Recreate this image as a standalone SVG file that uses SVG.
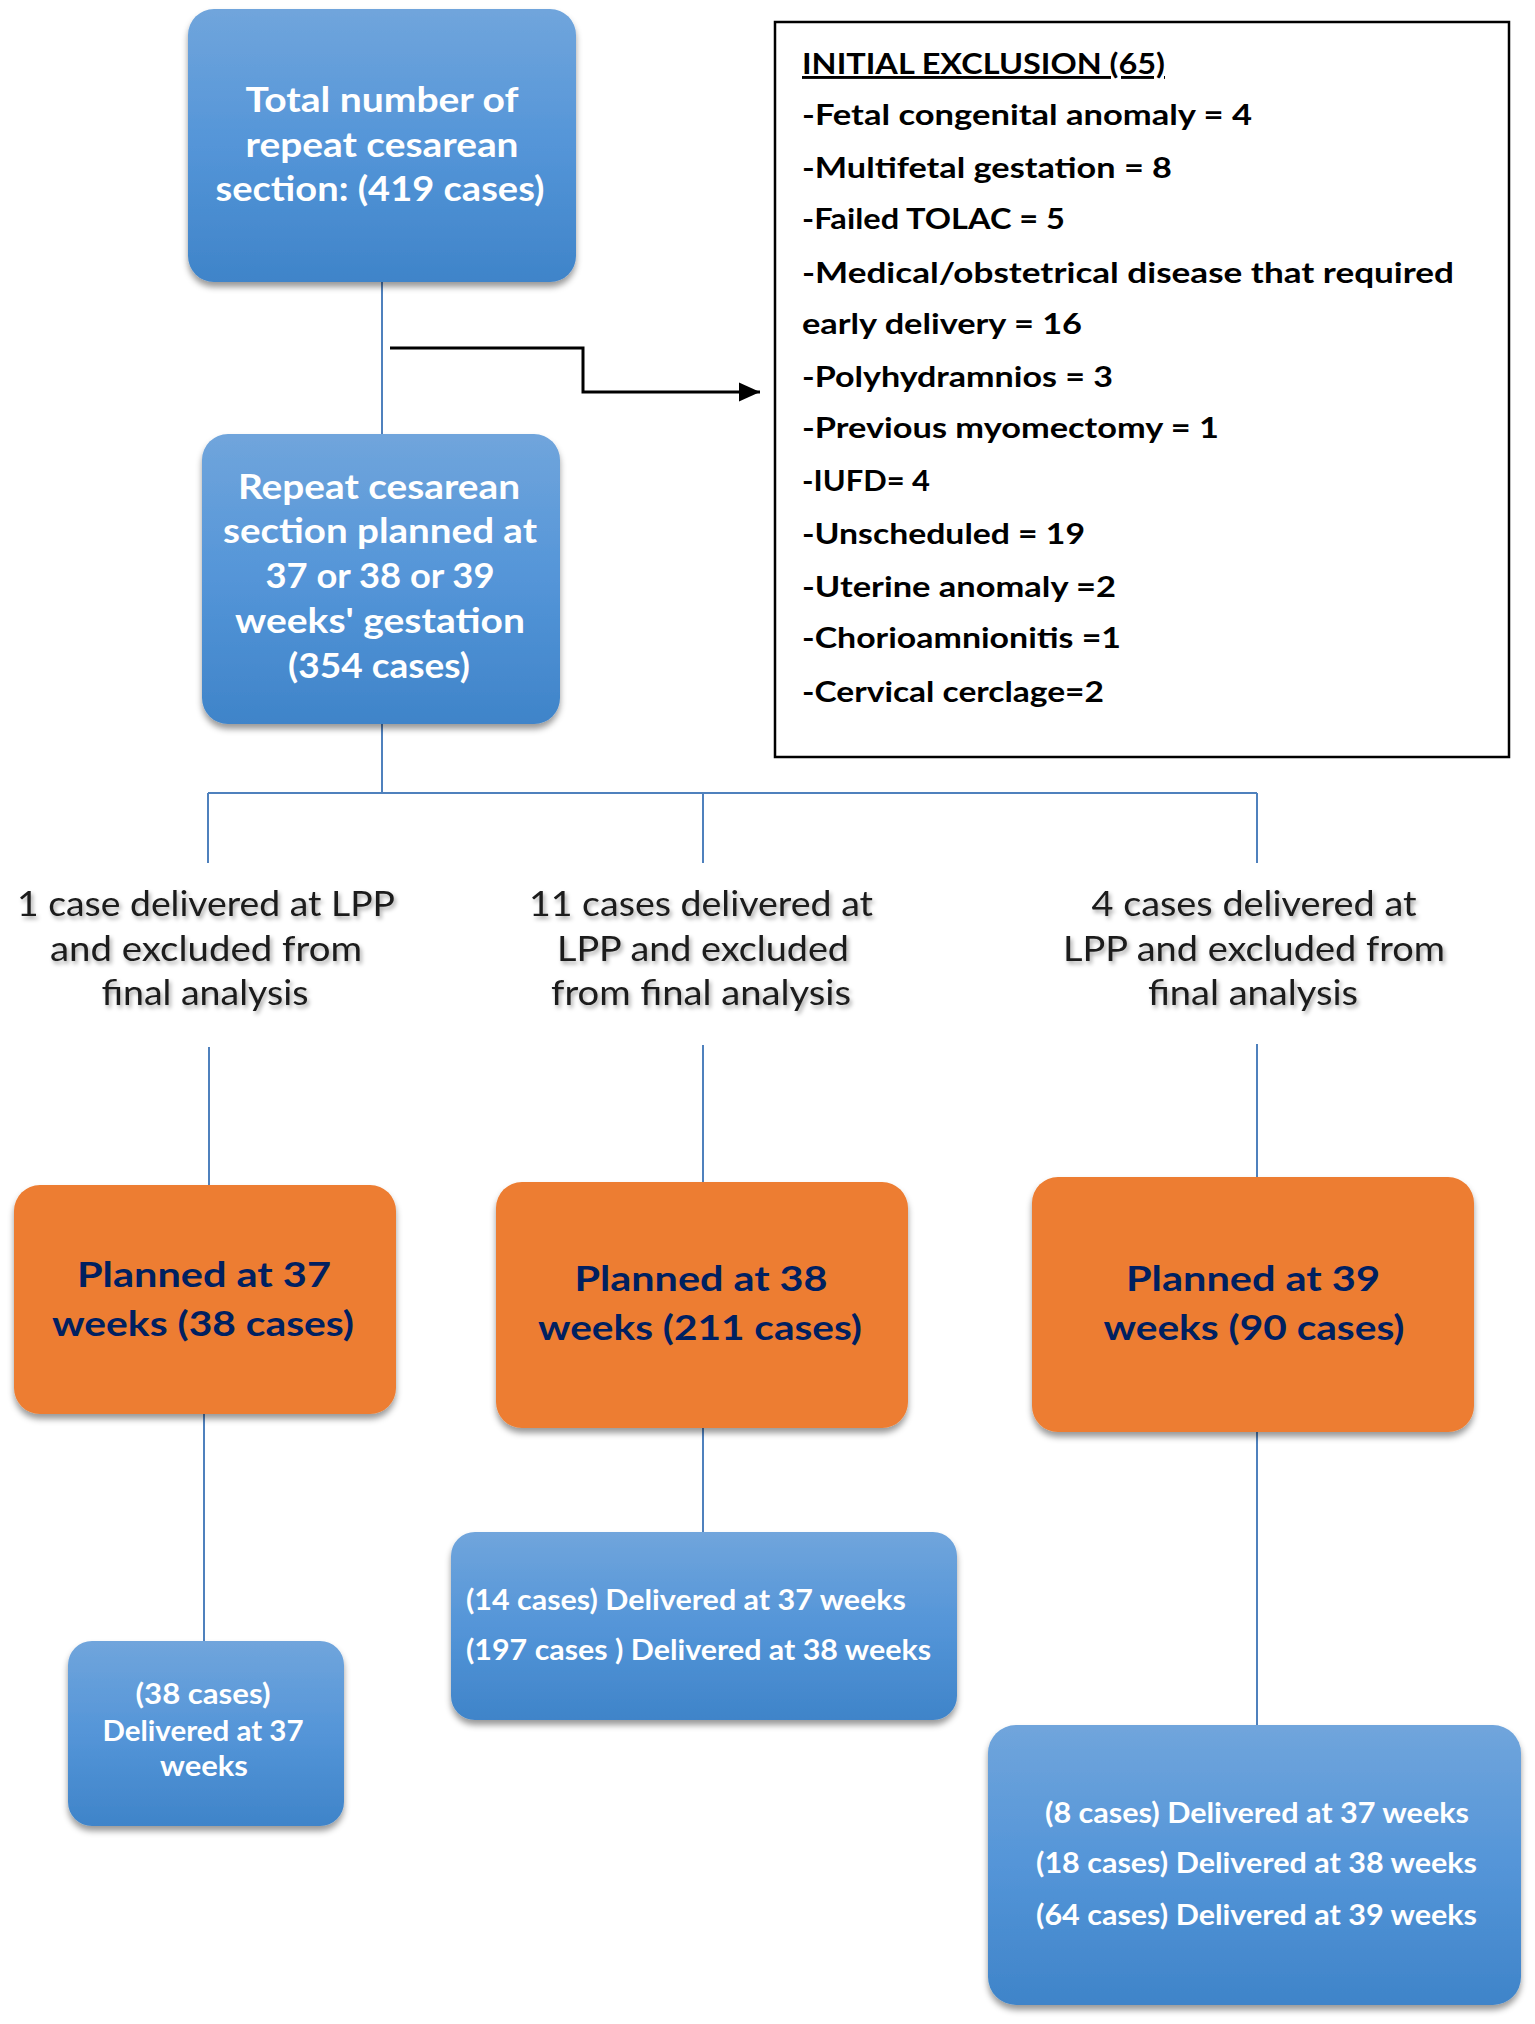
<svg xmlns="http://www.w3.org/2000/svg" width="1535" height="2024" viewBox="0 0 1535 2024">
<defs>
<linearGradient id="blueGrad" x1="0" y1="0" x2="0" y2="1">
<stop offset="0" stop-color="#70a5dc"/>
<stop offset="0.5" stop-color="#5495d8"/>
<stop offset="1" stop-color="#3f84c9"/>
</linearGradient>
<filter id="boxShadow" x="-10%" y="-10%" width="120%" height="130%">
<feDropShadow dx="0" dy="5" stdDeviation="3" flood-color="#000" flood-opacity="0.4"/>
</filter>
<filter id="textShadow" x="-5%" y="-20%" width="110%" height="160%">
<feDropShadow dx="2" dy="3" stdDeviation="2" flood-color="#000" flood-opacity="0.35"/>
</filter>
<marker id="arrow" markerWidth="8" markerHeight="8" refX="7" refY="4" orient="auto" markerUnits="strokeWidth">
<path d="M0,0.8 L7,4 L0,7.2 Z" fill="#000"/>
</marker>
<style>
.blue{fill:url(#blueGrad);filter:url(#boxShadow);}
.orange{fill:#ed7d31;filter:url(#boxShadow);}
.wt{font-family:Lato,"Liberation Sans",sans-serif;font-weight:bold;font-size:34px;fill:#ffffff;text-anchor:middle;}
.ot{font-family:Lato,"Liberation Sans",sans-serif;font-weight:bold;font-size:34px;fill:#002060;text-anchor:middle;}
.st{font-family:Lato,"Liberation Sans",sans-serif;font-weight:bold;font-size:28px;fill:#ffffff;}
.lt{font-family:Lato,"Liberation Sans",sans-serif;font-size:34px;fill:#1a1a1a;text-anchor:middle;filter:url(#textShadow);}
.ex{font-family:Lato,"Liberation Sans",sans-serif;font-weight:bold;font-size:29px;fill:#000;}
.conn{stroke:#4f81bd;stroke-width:2;fill:none;}
</style>
</defs>

<g id="connectors">
<path class="conn" d="M382,282 V434"/>
<path class="conn" d="M382,724 V793"/>
<path class="conn" d="M208,793 H1257"/>
<path class="conn" d="M208,793 V863"/>
<path class="conn" d="M703,793 V863"/>
<path class="conn" d="M1257,793 V863"/>
<path class="conn" d="M209,1047 V1185"/>
<path class="conn" d="M703,1045 V1182"/>
<path class="conn" d="M1257,1044 V1177"/>
<path class="conn" d="M204,1414 V1641"/>
<path class="conn" d="M703,1428 V1532"/>
<path class="conn" d="M1257,1432 V1725"/>
<path d="M390,348 H583 V392 H760" stroke="#000" stroke-width="3" fill="none" marker-end="url(#arrow)"/>
</g>

<g id="node-total">
<rect class="blue" x="188" y="9" width="388" height="273" rx="26"/>
<text class="wt" x="382" y="112" textLength="273" lengthAdjust="spacingAndGlyphs">Total number of</text>
<text class="wt" x="382" y="157" textLength="273" lengthAdjust="spacingAndGlyphs">repeat cesarean</text>
<text class="wt" x="380" y="201" textLength="329" lengthAdjust="spacingAndGlyphs">section: (419 cases)</text>
</g>

<g id="node-exclusion">
<rect x="775" y="22" width="734" height="735" fill="#fff" stroke="#000" stroke-width="2.5"/>
<text class="ex" x="802" y="74" textLength="363" lengthAdjust="spacingAndGlyphs" text-decoration="underline">INITIAL EXCLUSION (65)</text>
<text class="ex" x="802" y="125" textLength="450" lengthAdjust="spacingAndGlyphs">-Fetal congenital anomaly = 4</text>
<text class="ex" x="802" y="178" textLength="370" lengthAdjust="spacingAndGlyphs">-Multifetal gestation = 8</text>
<text class="ex" x="802" y="229" textLength="263" lengthAdjust="spacingAndGlyphs">-Failed TOLAC = 5</text>
<text class="ex" x="802" y="283" textLength="652" lengthAdjust="spacingAndGlyphs">-Medical/obstetrical disease that required</text>
<text class="ex" x="802" y="334" textLength="280" lengthAdjust="spacingAndGlyphs">early delivery = 16</text>
<text class="ex" x="802" y="387" textLength="311" lengthAdjust="spacingAndGlyphs">-Polyhydramnios = 3</text>
<text class="ex" x="802" y="438" textLength="417" lengthAdjust="spacingAndGlyphs">-Previous myomectomy = 1</text>
<text class="ex" x="802" y="491" textLength="128" lengthAdjust="spacingAndGlyphs">-IUFD= 4</text>
<text class="ex" x="802" y="544" textLength="283" lengthAdjust="spacingAndGlyphs">-Unscheduled = 19</text>
<text class="ex" x="802" y="597" textLength="314" lengthAdjust="spacingAndGlyphs">-Uterine anomaly =2</text>
<text class="ex" x="802" y="648" textLength="319" lengthAdjust="spacingAndGlyphs">-Chorioamnionitis =1</text>
<text class="ex" x="802" y="702" textLength="302" lengthAdjust="spacingAndGlyphs">-Cervical cerclage=2</text>
</g>

<g id="node-planned">
<rect class="blue" x="202" y="434" width="358" height="290" rx="26"/>
<text class="wt" x="379" y="499" textLength="282" lengthAdjust="spacingAndGlyphs">Repeat cesarean</text>
<text class="wt" x="380" y="543" textLength="314" lengthAdjust="spacingAndGlyphs">section planned at</text>
<text class="wt" x="380" y="588" textLength="229" lengthAdjust="spacingAndGlyphs">37 or 38 or 39</text>
<text class="wt" x="380" y="633" textLength="290" lengthAdjust="spacingAndGlyphs">weeks' gestation</text>
<text class="wt" x="379" y="678" textLength="182" lengthAdjust="spacingAndGlyphs">(354 cases)</text>
</g>

<g id="label-lpp37">
<text class="lt" x="206" y="916" textLength="378" lengthAdjust="spacingAndGlyphs">1 case delivered at LPP</text>
<text class="lt" x="206" y="961" textLength="312" lengthAdjust="spacingAndGlyphs">and excluded from</text>
<text class="lt" x="205" y="1005" textLength="207" lengthAdjust="spacingAndGlyphs">final analysis</text>
</g>

<g id="label-lpp38">
<text class="lt" x="701" y="916" textLength="344" lengthAdjust="spacingAndGlyphs">11 cases delivered at</text>
<text class="lt" x="703" y="961" textLength="292" lengthAdjust="spacingAndGlyphs">LPP and excluded</text>
<text class="lt" x="701" y="1005" textLength="300" lengthAdjust="spacingAndGlyphs">from final analysis</text>
</g>

<g id="label-lpp39">
<text class="lt" x="1254" y="916" textLength="325" lengthAdjust="spacingAndGlyphs">4 cases delivered at</text>
<text class="lt" x="1254" y="961" textLength="382" lengthAdjust="spacingAndGlyphs">LPP and excluded from</text>
<text class="lt" x="1253" y="1005" textLength="210" lengthAdjust="spacingAndGlyphs">final analysis</text>
</g>

<g id="node-planned37">
<rect class="orange" x="14" y="1185" width="382" height="229" rx="26"/>
<text class="ot" x="204" y="1287" textLength="254" lengthAdjust="spacingAndGlyphs">Planned at 37</text>
<text class="ot" x="203" y="1336" textLength="302" lengthAdjust="spacingAndGlyphs">weeks (38 cases)</text>
</g>

<g id="node-planned38">
<rect class="orange" x="496" y="1182" width="412" height="246" rx="26"/>
<text class="ot" x="701" y="1291" textLength="253" lengthAdjust="spacingAndGlyphs">Planned at 38</text>
<text class="ot" x="700" y="1340" textLength="324" lengthAdjust="spacingAndGlyphs">weeks (211 cases)</text>
</g>

<g id="node-planned39">
<rect class="orange" x="1032" y="1177" width="442" height="255" rx="26"/>
<text class="ot" x="1253" y="1291" textLength="254" lengthAdjust="spacingAndGlyphs">Planned at 39</text>
<text class="ot" x="1254" y="1340" textLength="301" lengthAdjust="spacingAndGlyphs">weeks (90 cases)</text>
</g>

<g id="node-delivered37">
<rect class="blue" x="68" y="1641" width="276" height="185" rx="24"/>
<text class="st" x="203" y="1704" text-anchor="middle" textLength="135" lengthAdjust="spacingAndGlyphs">(38 cases)</text>
<text class="st" x="203" y="1741" text-anchor="middle" textLength="201" lengthAdjust="spacingAndGlyphs">Delivered at 37</text>
<text class="st" x="204" y="1776" text-anchor="middle" textLength="88" lengthAdjust="spacingAndGlyphs">weeks</text>
</g>

<g id="node-delivered38">
<rect class="blue" x="451" y="1532" width="506" height="188" rx="24"/>
<text class="st" x="466" y="1610" textLength="440" lengthAdjust="spacingAndGlyphs">(14 cases) Delivered at 37 weeks</text>
<text class="st" x="466" y="1660" textLength="465" lengthAdjust="spacingAndGlyphs">(197 cases ) Delivered at 38 weeks</text>
</g>

<g id="node-delivered39">
<rect class="blue" x="988" y="1725" width="533" height="280" rx="28"/>
<text class="st" x="1045" y="1823" font-size="29" textLength="424" lengthAdjust="spacingAndGlyphs">(8 cases) Delivered at 37  weeks</text>
<text class="st" x="1036" y="1873" font-size="29" textLength="441" lengthAdjust="spacingAndGlyphs">(18 cases) Delivered at 38  weeks</text>
<text class="st" x="1036" y="1925" font-size="29" textLength="441" lengthAdjust="spacingAndGlyphs">(64 cases) Delivered at 39  weeks</text>
</g>
</svg>
